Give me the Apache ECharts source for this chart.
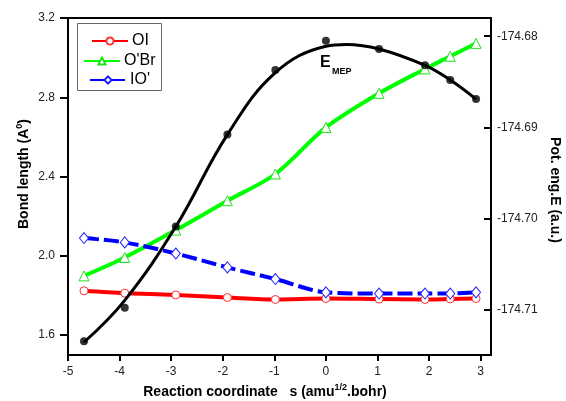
<!DOCTYPE html>
<html>
<head>
<meta charset="utf-8">
<script src="https://cdn.jsdelivr.net/npm/echarts@6/dist/echarts.min.js"></script>
<style>html,body{margin:0;padding:0;background:#fff;}#c{width:566px;height:401px;}</style>
</head>
<body>
<div id="c"></div>
<script>
// ---- data ----
const sVals = [-4.69, -3.90, -2.91, -1.91, -0.98, 0.00, 1.03, 1.92, 2.41, 2.91];
const oiVals = [1.824, 1.812, 1.803, 1.790, 1.780, 1.785, 1.782, 1.780, 1.783, 1.785];
const obrVals = [1.899, 1.992, 2.130, 2.278, 2.413, 2.648, 2.820, 2.943, 3.007, 3.072];
const ioVals = [2.090, 2.068, 2.012, 1.942, 1.883, 1.816, 1.810, 1.810, 1.810, 1.816];
const eMepVals = [-174.7135, -174.7098, -174.7009, -174.6908, -174.6837, -174.6805, -174.6814, -174.6832, -174.6848, -174.6869];
const fitS = [-4.69, -3.90, -2.91, -1.91, -0.98, 0.00, 0.40, 1.03, 1.92, 2.41, 2.91];
const fitE = [-174.7136, -174.7090, -174.7009, -174.6908, -174.6840, -174.6811, -174.6809, -174.6814, -174.6832, -174.6848, -174.6869];
const xTicks = [-5, -4, -3, -2, -1, 0, 1, 2, 3];
const yLeftTicks = [1.6, 2.0, 2.4, 2.8, 3.2];
const yRightTicks = [-174.71, -174.70, -174.69, -174.68];

const FONT = 'Arial, "Liberation Sans", sans-serif';
const pair = (xs, ys) => xs.map((x, i) => [x, ys[i]]);

const chart = echarts.init(document.getElementById('c'), null, {renderer: 'canvas'});

function legendFor(name, left, top) {
  return {
    data: [name], left: left, top: top, orient: 'vertical', padding: 0,
    itemWidth: 36, itemHeight: 9, itemGap: 0,
    textStyle: {fontFamily: FONT, fontSize: 16, color: '#000', padding: [0, 0, 0, -1]},
    selectedMode: false
  };
}

function markerStyle(col) {
  return {color: '#fff', borderColor: col, borderWidth: 1};
}

const option = {
  animation: false,
  backgroundColor: '#fff',
  grid: {left: 68, right: 75, top: 18, bottom: 46, show: true, borderColor: '#000', borderWidth: 2},
  legend: [
    legendFor('OI', 91, 33),
    legendFor("O'Br", 83, 53),
    legendFor("IO'", 89, 72)
  ],
  xAxis: {
    type: 'value', min: -5, max: 3.2,
    axisLine: {show: true, onZero: false, lineStyle: {color: '#000', width: 2}},
    axisTick: {show: true, length: 6, lineStyle: {color: '#000', width: 2}, customValues: xTicks},
    axisLabel: {customValues: xTicks, fontFamily: FONT, fontSize: 12, color: '#222', margin: 11,
      formatter: v => String(Math.round(v))},
    splitLine: {show: false}
  },
  yAxis: [
    {
      type: 'value', min: 1.5, max: 3.2, position: 'left',
      axisLine: {show: true, onZero: false, lineStyle: {color: '#000', width: 2}},
      axisTick: {show: true, length: 8, lineStyle: {color: '#000', width: 2}, customValues: yLeftTicks},
      axisLabel: {customValues: yLeftTicks, fontFamily: FONT, fontSize: 12, color: '#222', margin: 13,
        formatter: v => v.toFixed(1)},
      splitLine: {show: false}
    },
    {
      type: 'value', min: -174.715, max: -174.678, position: 'right',
      axisLine: {show: true, onZero: false, lineStyle: {color: '#000', width: 2}},
      axisTick: {show: true, inside: true, length: 7, lineStyle: {color: '#000', width: 2}, customValues: yRightTicks},
      axisLabel: {customValues: yRightTicks, fontFamily: FONT, fontSize: 12, color: '#222', margin: 6,
        formatter: v => v.toFixed(2)},
      splitLine: {show: false}
    }
  ],
  series: [
    {
      name: 'OI', type: 'line', yAxisIndex: 0, data: pair(sVals, oiVals), smooth: 0.3,
      symbol: 'circle', symbolSize: 8,
      lineStyle: {color: '#ff0000', width: 4},
      itemStyle: markerStyle('#ff3030'),
      z: 3
    },
    {
      name: "O'Br", type: 'line', yAxisIndex: 0, data: pair(sVals, obrVals), smooth: 0.3,
      symbol: 'triangle', symbolSize: 10,
      lineStyle: {color: '#00ff00', width: 4},
      itemStyle: markerStyle('#20e020'),
      z: 3
    },
    {
      name: "IO'", type: 'line', yAxisIndex: 0, data: pair(sVals, ioVals), smooth: 0.3,
      symbol: 'diamond', symbolSize: [9, 11],
      lineStyle: {color: '#0000ff', width: 4, type: [15, 5]},
      itemStyle: markerStyle('#2020ff'),
      z: 3
    },
    {
      name: 'E fit', type: 'line', yAxisIndex: 1, data: pair(fitS, fitE), smooth: 0.4,
      showSymbol: false, symbol: 'none',
      lineStyle: {color: '#000', width: 3},
      z: 5
    },
    {
      name: 'E points', type: 'scatter', yAxisIndex: 1, data: pair(sVals, eMepVals),
      symbol: 'circle', symbolSize: 8,
      itemStyle: {color: '#000'},
      z: 6
    }
  ],
  graphic: [
    {type: 'rect', shape: {x: 77.5, y: 23.5, width: 84, height: 67}, style: {fill: null, stroke: '#666', lineWidth: 1}, z: 10},
    {type: 'text', x: 320, y: 55, style: {text: 'E', font: 'bold 16px ' + FONT, fill: '#000'}, z: 10},
    {type: 'text', x: 332, y: 67, style: {text: 'MEP', font: 'bold 9px ' + FONT, fill: '#000'}, z: 10},
    {type: 'text', x: 24, y: 174, rotation: Math.PI / 2,
      style: {text: 'Bond length (A{sup|0})', font: 'bold 14px ' + FONT, fill: '#000', align: 'center', verticalAlign: 'middle',
        rich: {sup: {font: 'bold 9px ' + FONT, fill: '#000', verticalAlign: 'top', padding: [0, 0, 8, 0]}}}, z: 10},
    {type: 'text', x: 555, y: 190, rotation: -Math.PI / 2,
      style: {text: 'Pot. eng.E (a.u.)', font: 'bold 14px ' + FONT, fill: '#000', align: 'center', verticalAlign: 'middle'}, z: 10},
    {type: 'text', x: 265, y: 392,
      style: {text: 'Reaction coordinate   s (amu{sup|1/2}.bohr)', font: 'bold 14px ' + FONT, fill: '#000', align: 'center', verticalAlign: 'middle',
        rich: {sup: {font: 'bold 9px ' + FONT, fill: '#000', verticalAlign: 'top', padding: [0, 0, 8, 0]}}}, z: 10}
  ]
};
chart.setOption(option);
</script>
</body>
</html>
